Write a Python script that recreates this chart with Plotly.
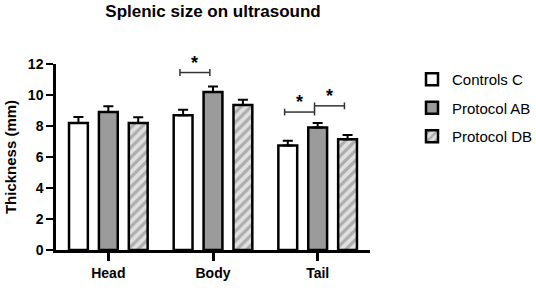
import plotly.graph_objects as go

categories = ["Head", "Body", "Tail"]
controls_c = [8.2, 8.7, 6.75]
controls_c_err = [0.38, 0.35, 0.3]
protocol_ab = [8.9, 10.2, 7.9]
protocol_ab_err = [0.38, 0.35, 0.3]
protocol_db = [8.2, 9.35, 7.15]
protocol_db_err = [0.36, 0.35, 0.27]

# significance brackets: (group index, from series, to series, y level)
sig_group = [1, 2, 2]
sig_from = [0, 0, 1]
sig_to = [1, 1, 2]
sig_y = [11.45, 8.9, 9.3]

FONT = "Liberation Sans, Arial, sans-serif"
x_pos = list(range(len(categories)))
offset = 30 / 105  # series offset in category units

fig = go.Figure()
series = [
    ("Controls C", controls_c, controls_c_err, dict(color="white")),
    ("Protocol AB", protocol_ab, protocol_ab_err, dict(color="#9b9b9b")),
    ("Protocol DB", protocol_db, protocol_db_err,
     dict(color="white", pattern=dict(shape="/", fgcolor="#7a7a7a", bgcolor="#e0e0e0", solidity=0.45, size=7))),
]
for i, (name, vals, errs, mk) in enumerate(series):
    fig.add_trace(go.Bar(
        x=x_pos, y=vals, name=name, legendgroup=f"g{i}",
        marker=dict(**mk, line=dict(color="black", width=2.5)),
        error_y=dict(type="data", array=errs, arrayminus=[0] * len(errs), symmetric=False,
                     color="black", thickness=2, width=5),
    ))

for g, a, b, yv in zip(sig_group, sig_from, sig_to, sig_y):
    x1 = g + (a - 1) * offset - 0.03
    x2 = g + (b - 1) * offset - 0.03
    cap = 0.22
    fig.add_trace(go.Scatter(
        x=[x1, x2, None, x1, x1, None, x2, x2],
        y=[yv, yv, None, yv - cap, yv + cap, None, yv - cap, yv + cap],
        mode="lines", line=dict(color="#333333", width=1.5),
        showlegend=False, hoverinfo="skip"))
    fig.add_annotation(x=(x1 + x2) / 2, y=yv, text="*", showarrow=False,
                       yanchor="bottom", yshift=-2,
                       font=dict(family=FONT, size=18, color="black", weight="bold"))

fig.update_layout(
    width=536, height=292,
    margin=dict(l=56, r=166, t=64, b=42),
    paper_bgcolor="white", plot_bgcolor="white",
    barmode="group", bargap=0.143, bargroupgap=0.37,
    title=dict(text="Splenic size on ultrasound", x=213 / 536, xanchor="center",
               y=1 - 11 / 292, yanchor="middle",
               font=dict(family=FONT, size=17, color="black", weight="bold")),
    legend=dict(xref="container", yref="container", x=412 / 536, y=1 - 63 / 292,
                xanchor="left", yanchor="top",
                font=dict(family=FONT, size=15, color="black"),
                tracegroupgap=6, itemwidth=30),
    font=dict(family=FONT, color="black"),
)
fig.update_xaxes(
    range=[-0.5, 2.5], tickvals=x_pos, ticktext=categories,
    showline=True, linecolor="black", linewidth=2.5,
    ticks="outside", ticklen=8, tickwidth=2.5, tickcolor="black",
    showgrid=False, zeroline=False, automargin=False,
    tickfont=dict(family=FONT, size=14, color="black", weight="bold"),
)
fig.update_yaxes(
    range=[0, 12], dtick=2,
    showline=True, linecolor="black", linewidth=2.5,
    ticks="outside", ticklen=7, tickwidth=2, tickcolor="black",
    showgrid=False, zeroline=False, automargin=False,
    tickfont=dict(family=FONT, size=14, color="black", weight="bold"),
    title=dict(text="Thickness (mm)", standoff=8,
               font=dict(family=FONT, size=15, color="black", weight="bold")),
)

fig.write_html("out.html", config={"displayModeBar": False},
               post_script="document.body.style.margin='0';")
